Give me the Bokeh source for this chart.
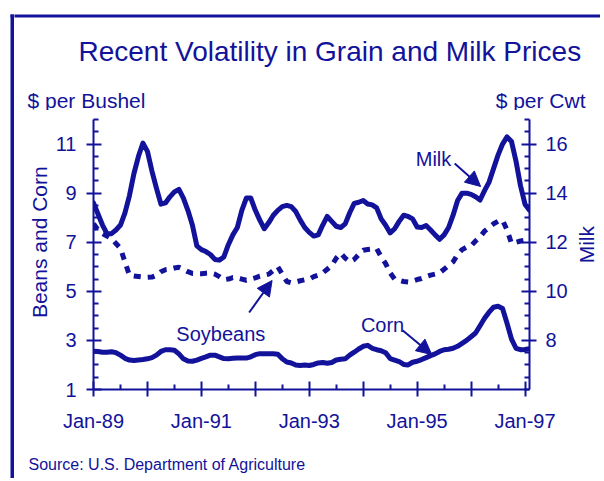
import math
from bokeh.plotting import figure
from bokeh.layouts import column, row
from bokeh.models import Range1d, LinearAxis, FixedTicker, Label, Arrow, NormalHead, BoxAnnotation
from bokeh.embed import file_html
from bokeh.resources import INLINE

# ---------------- data (monthly, Jan-1989 .. Feb-1997) ----------------
months = list(range(98))  # months since Jan-89

milk = [13.6, 13.15, 12.7, 12.35, 12.35, 12.5, 12.7, 13.2, 13.9, 14.8,
        15.5, 16.04, 15.7, 14.9, 14.2, 13.55, 13.6, 13.85, 14.05, 14.15,
        13.8, 13.3, 12.7, 11.85, 11.7, 11.62, 11.5, 11.3, 11.27, 11.4,
        11.9, 12.3, 12.6, 13.3, 13.8, 13.8, 13.3, 12.9, 12.55, 12.8,
        13.1, 13.3, 13.45, 13.5, 13.45, 13.25, 12.9, 12.6, 12.4, 12.25,
        12.3, 12.7, 13.05, 12.85, 12.65, 12.6, 12.75, 13.2, 13.58, 13.63,
        13.7, 13.56, 13.52, 13.4, 12.95, 12.69, 12.38, 12.55, 12.85, 13.1,
        13.05, 12.95, 12.62, 12.6, 12.68, 12.5, 12.3, 12.12, 12.3, 12.6,
        13.1, 13.7, 14.0, 14.0, 13.95, 13.85, 13.72, 14.1, 14.45, 15.0,
        15.55, 16.0, 16.29, 16.1, 15.3, 14.3, 13.55, 13.3]

corn = [2.56, 2.55, 2.52, 2.52, 2.54, 2.5, 2.4, 2.27, 2.2, 2.18,
        2.2, 2.22, 2.25, 2.3, 2.4, 2.55, 2.62, 2.62, 2.6, 2.45,
        2.25, 2.16, 2.15, 2.2, 2.27, 2.33, 2.4, 2.4, 2.33, 2.26,
        2.25, 2.27, 2.28, 2.28, 2.28, 2.33, 2.42, 2.46, 2.46, 2.46,
        2.46, 2.44, 2.25, 2.12, 2.08, 2.0, 1.98, 2.0, 1.98, 2.02,
        2.08, 2.1, 2.07, 2.1, 2.2, 2.23, 2.25, 2.4, 2.52, 2.65,
        2.76, 2.8, 2.68, 2.62, 2.58, 2.5, 2.26, 2.2, 2.14, 2.02,
        2.0, 2.11, 2.15, 2.22, 2.3, 2.38, 2.45, 2.55, 2.62, 2.64,
        2.68, 2.76, 2.88, 3.0, 3.15, 3.3, 3.6, 3.9, 4.15, 4.35,
        4.39, 4.3, 3.7, 3.05, 2.68, 2.62, 2.63, 2.66]

soybeans = [7.76, 7.5, 7.35, 7.25, 7.15, 6.95, 6.75, 6.2, 5.65, 5.62,
            5.6, 5.58, 5.57, 5.58, 5.65, 5.8, 5.88, 5.9, 5.95, 5.98,
            5.9, 5.8, 5.73, 5.72, 5.72, 5.74, 5.75, 5.7, 5.6, 5.47,
            5.5, 5.56, 5.55, 5.5, 5.45, 5.5, 5.55, 5.62, 5.66, 5.7,
            5.85, 6.0, 5.7, 5.4, 5.35, 5.38, 5.43, 5.47, 5.5, 5.6,
            5.66, 5.75, 5.9, 6.05, 6.35, 6.55, 6.35, 6.2, 6.3, 6.5,
            6.67, 6.7, 6.72, 6.74, 6.4, 6.13, 5.75, 5.5, 5.45, 5.4,
            5.38, 5.42, 5.48, 5.52, 5.6, 5.66, 5.7, 5.75, 5.9, 6.05,
            6.2, 6.5, 6.7, 6.8, 6.85, 7.05, 7.22, 7.45, 7.6, 7.75,
            7.85, 7.9, 7.5, 6.95, 7.0, 7.05, 7.08, 7.1]

x_ticks = [0, 12, 24, 36, 48, 60, 72, 84, 96]
x_labels = ["Jan-89", "", "Jan-91", "", "Jan-93", "", "Jan-95", "", "Jan-97"]
left_ticks = [1, 3, 5, 7, 9, 11]
right_ticks = [8, 10, 12, 14, 16]

# ---------------- styling / page geometry ----------------
BLUE = "#12129a"
FONT = "Liberation Sans"
PAGE_W, PAGE_H = 600, 478
EDGE_W = 14                      # far-left strip holding the frame edge
HEAD_H, MID_H = 110, 330
FOOT_H = PAGE_H - HEAD_H - MID_H
LSTRIP_W, RSTRIP_W = 38, 25
MAIN_W = PAGE_W - EDGE_W - LSTRIP_W - RSTRIP_W
# plot frame in page pixels
FX0, FX1, FY0, FY1 = 92, 529, 119, 389
X0, X1 = 0, 97
Y0, Y1 = 1, 12


def blank(x0, y0, w, h):
    """an axis-less panel whose data coordinates equal page pixels"""
    f = figure(width=w, height=h, x_range=Range1d(x0, x0 + w), y_range=Range1d(y0 + h, y0),
               x_axis_type=None, y_axis_type=None, output_backend="svg",
               toolbar_location=None, min_border=0)
    f.outline_line_color = None
    f.background_fill_color = "white"
    f.border_fill_color = "white"
    return f


def frame_bar(f, left, right, top, bottom):
    f.add_layout(BoxAnnotation(left=left, right=right, top=top, bottom=bottom,
                               fill_color=BLUE, fill_alpha=1.0, line_color=None))


def text(f, x, y, s, size, align="left", baseline="alphabetic", angle=0.0):
    f.add_layout(Label(x=x, y=y, text=s, text_font=FONT, text_font_size=f"{size}px",
                       text_color=BLUE, text_align=align, text_baseline=baseline, angle=angle))


# ---------------- frame edge (left) ----------------
edge = blank(0, 0, EDGE_W, PAGE_H)
frame_bar(edge, 10, 13.5, 14, 2000)
frame_bar(edge, 10, 100, 14, 17)

# ---------------- header ----------------
head = blank(EDGE_W, 0, PAGE_W - EDGE_W, HEAD_H)
frame_bar(head, 0, 2000, 14, 17)
text(head, 78, 50.5, "Recent Volatility in Grain and Milk Prices", 28)
text(head, 27, 99.5, "$ per Bushel", 21)
text(head, 585, 99.5, "$ per Cwt", 21, align="right")

# ---------------- side strips ----------------
lstrip = blank(EDGE_W, HEAD_H, LSTRIP_W, MID_H)
text(lstrip, 38.5, 260, "Beans and Corn", 21, align="center", baseline="middle", angle=math.pi / 2)

rstrip = blank(PAGE_W - RSTRIP_W, HEAD_H, RSTRIP_W, MID_H)
text(rstrip, 586, 263, "Milk", 21, align="center", baseline="middle", angle=math.pi / 2)

# ---------------- footer ----------------
foot = blank(EDGE_W, HEAD_H + MID_H, PAGE_W - EDGE_W, FOOT_H)
text(foot, 28, 464, "Source:  U.S. Department of Agriculture", 16)

# ---------------- main chart ----------------
main_left = EDGE_W + LSTRIP_W
p = figure(width=MAIN_W, height=MID_H, x_range=Range1d(X0, X1), y_range=Range1d(Y0, Y1),
           output_backend="svg", toolbar_location=None,
           min_border_left=FX0 - main_left, min_border_right=(PAGE_W - RSTRIP_W) - FX1,
           min_border_top=FY0 - HEAD_H, min_border_bottom=HEAD_H + MID_H - FY1)
p.extra_y_ranges = {"milk": Range1d(Y0 + 5, Y1 + 5)}
p.outline_line_color = None
p.grid.visible = False
p.background_fill_color = "white"
p.border_fill_color = "white"

right_axis = LinearAxis(y_range_name="milk")
p.add_layout(right_axis, "right")


def style_axis(ax, standoff):
    ax.axis_line_color = BLUE
    ax.axis_line_width = 2
    ax.major_tick_line_color = BLUE
    ax.major_tick_line_width = 2
    ax.minor_tick_line_color = BLUE
    ax.minor_tick_line_width = 2
    ax.major_tick_in = 8
    ax.major_tick_out = 7
    ax.minor_tick_in = 5
    ax.minor_tick_out = 0
    ax.major_label_text_color = BLUE
    ax.major_label_text_font = FONT
    ax.major_label_text_font_size = "20px"
    ax.major_label_standoff = standoff


xa = p.xaxis[0]
ya = p.yaxis[0]
style_axis(xa, 13)
style_axis(ya, 10)
style_axis(right_axis, 9)

xa.ticker = FixedTicker(ticks=x_ticks, minor_ticks=[t + 6 for t in x_ticks[:-1]])
xa.major_label_overrides = {t: l for t, l in zip(x_ticks, x_labels)}
ya.ticker = FixedTicker(ticks=left_ticks,
                        minor_ticks=[v / 2 for v in range(2, 25) if (v / 2) not in left_ticks])
right_axis.ticker = FixedTicker(ticks=right_ticks,
                                minor_ticks=[v / 2 for v in range(12, 35) if (v / 2) not in right_ticks])

p.line(months, soybeans, line_color=BLUE, line_width=5, line_dash="7 7", line_cap="butt")
p.line(months, corn, line_color=BLUE, line_width=5, line_join="round", line_cap="round")
p.line(months, milk, line_color=BLUE, line_width=5, line_join="round", line_cap="round",
       y_range_name="milk")


def to_data(px, py):
    """page-pixel position -> primary data coordinates (annotation placement)"""
    return (X0 + (px - FX0) / (FX1 - FX0) * (X1 - X0),
            Y0 + (FY1 - py) / (FY1 - FY0) * (Y1 - Y0))


def series_label(px, py, s):
    x, y = to_data(px, py)
    text(p, x, y, s, 20)


def pointer(a, b):
    x0, y0 = to_data(*a)
    x1, y1 = to_data(*b)
    p.add_layout(Arrow(x_start=x0, y_start=y0, x_end=x1, y_end=y1,
                       end=NormalHead(size=15, fill_color=BLUE, line_color=BLUE),
                       line_color=BLUE, line_width=2))


series_label(415, 158, "Milk")
series_label(360, 324, "Corn")
series_label(175, 333, "Soybeans")
pointer((454, 163), (480, 186))
pointer((402, 330), (431, 354))
pointer((248, 312), (271, 280))

layout = row(edge, column(head, row(lstrip, p, rstrip), foot))
open("out.html", "w").write(file_html(layout, INLINE))
